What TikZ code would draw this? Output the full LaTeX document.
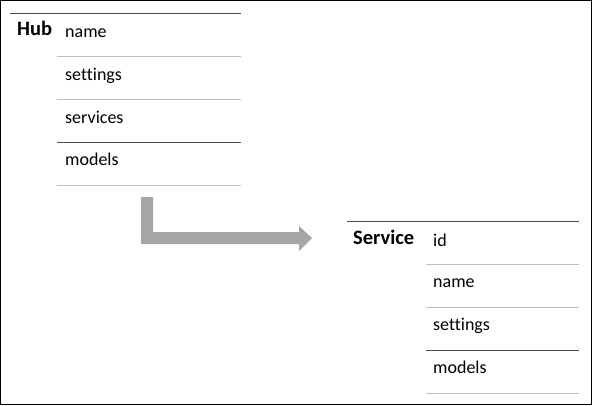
\documentclass[tikz,border=0pt]{standalone}
\usepackage{fontspec}
\setmainfont{Carlito}[Ligatures=NoCommon]
\begin{document}
\begin{tikzpicture}[x=1pt,y=-1pt,
  darkrule/.style={draw=black!70,line width=1pt},
  lightrule/.style={draw=black!25,line width=1pt},
  field/.style={anchor=base west,inner sep=0pt,font=\fontsize{18}{21}\selectfont},
  title/.style={anchor=base west,inner sep=0pt,font=\fontsize{20.5}{23}\selectfont\bfseries},
  flow/.style={fill=black!35,draw=none}]
\useasboundingbox (0,0) rectangle (592,405);
\draw[black,line width=1pt] (0.5,0.5) rectangle (591.5,404.5);
% Hub table
\coordinate (h0l) at (10,13); \coordinate (h0r) at (241,13);
\coordinate (h1l) at (57,56); \coordinate (h1r) at (241,56);
\coordinate (h2l) at (57,99); \coordinate (h2r) at (241,99);
\coordinate (h3l) at (57,142); \coordinate (h3r) at (241,142);
\coordinate (h4l) at (57,185); \coordinate (h4r) at (241,185);
\draw[darkrule] (h0l) -- (h0r);
\draw[lightrule] (h1l) -- (h1r);
\draw[lightrule] (h2l) -- (h2r);
\draw[darkrule] (h3l) -- (h3r);
\draw[lightrule] (h4l) -- (h4r);
\node[title] (hub) at (17,35) {Hub};
\node[field] (hname) at (65,37.5) {name};
\node[field] (hsettings) at (65,80) {settings};
\node[field] (hservices) at (65,123) {services};
\node[field] (hmodels) at (65,165.5) {models};
% Service table
\coordinate (s0l) at (347,221.7); \coordinate (s0r) at (579,221.7);
\coordinate (s1l) at (426,264.5); \coordinate (s1r) at (579,264.5);
\coordinate (s2l) at (426,307.5); \coordinate (s2r) at (579,307.5);
\coordinate (s3l) at (426,350.5); \coordinate (s3r) at (579,350.5);
\coordinate (s4l) at (426,393.5); \coordinate (s4r) at (579,393.5);
\draw[darkrule] (s0l) -- (s0r);
\draw[lightrule] (s1l) -- (s1r);
\draw[lightrule] (s2l) -- (s2r);
\draw[darkrule] (s3l) -- (s3r);
\draw[lightrule] (s4l) -- (s4r);
\node[title] (service) at (353,244.3) {Service};
\node[field] (sid) at (433,246.5) {id};
\node[field] (sname) at (433,287.5) {name};
\node[field] (ssettings) at (433,330.5) {settings};
\node[field] (smodels) at (433,373) {models};
% bent arrow
\fill[flow] (141,197) -- (153,197) -- (153,232) -- (299,232) -- (299,226)
  -- (312,238) -- (299,251) -- (299,244) -- (141,244) -- cycle;
\end{tikzpicture}
\end{document}
